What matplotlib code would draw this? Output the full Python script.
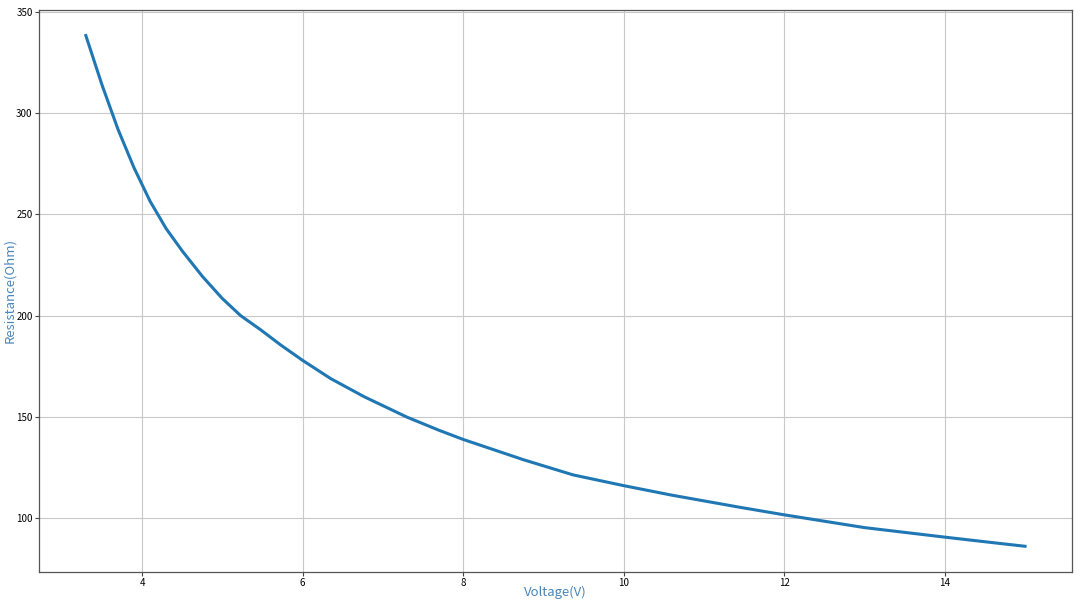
import matplotlib
matplotlib.use("Agg")
import matplotlib.pyplot as plt

plt.rcParams['font.family'] = ['Noto Sans CJK SC', 'DejaVu Sans']
plt.rcParams['axes.unicode_minus'] = False

# voltage (V) vs resistance (Ohm)
voltage = [3.3, 3.5, 3.7, 3.9, 4.1, 4.3, 4.5, 4.75, 5.0, 5.23, 5.48,
           5.73, 6.0, 6.35, 6.77, 7.3, 7.7, 8.0, 8.75, 9.37, 10.0, 10.6,
           11.45, 12.0, 13.0, 14.0, 14.66, 15.0]
resistance = [338.2, 314, 292, 273, 256.5, 243, 232, 219.5, 208.5, 200, 193,
              185.5, 178, 169, 160, 150, 143.5, 139, 129, 121.5, 116.2, 111.5,
              105.5, 101.8, 95.5, 90.8, 87.8, 86.3]

fig = plt.figure(figsize=(10.8, 6.07), dpi=100)
ax = fig.add_axes([0.036, 0.058, 0.9566, 0.9255])
ax.plot(voltage, resistance, color='#1f77b4', linewidth=2.2)

ax.grid(True, color='#c8c8c8', linewidth=0.8)
ax.set_axisbelow(True)
ax.tick_params(labelsize=7, length=3, width=0.8, color='#444444', pad=1.5)
for s in ax.spines.values():
    s.set_color('#555555')
    s.set_linewidth(0.9)

ax.set_xlabel('Voltage(V)', fontsize=9.5, color='#4a86b8', va='center')
ax.set_ylabel('Resistance(Ohm)', fontsize=9.5, color='#4a86b8', va='center')
ax.xaxis.set_label_coords(0.5, -0.037)
ax.yaxis.set_label_coords(-0.028, 0.5)

plt.savefig('out.png', dpi=100)
